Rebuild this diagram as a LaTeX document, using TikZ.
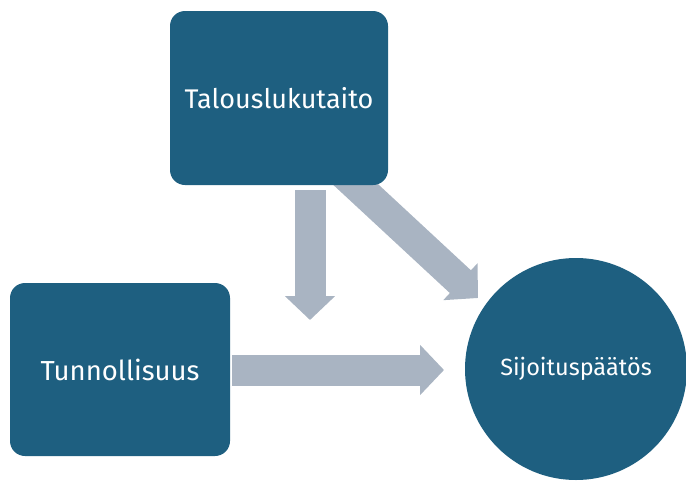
\documentclass[tikz,border=0pt]{standalone}
\usepackage{fontspec}
\setmainfont{Fira Sans}
\usetikzlibrary{arrows.meta}
\definecolor{boxblue}{HTML}{1E5F80}
\definecolor{arrowgray}{HTML}{A9B4C2}
\tikzset{
  blockbox/.style={fill=boxblue, draw=none, rounded corners=15pt, text=white, inner sep=0pt},
  roundnode/.style={circle, fill=boxblue, draw=none, text=white, font=\fontsize{23.5}{27}\selectfont, inner sep=0pt},
  fatarrow/.style={draw=arrowgray, line width=31pt, -{Triangle[width=49pt, length=24pt]}}
}
\begin{document}
\begin{tikzpicture}[x=1pt, y=-1pt]
\useasboundingbox (0,0) rectangle (686,483);
\coordinate (c1) at (310,190);
\coordinate (c2) at (310,320);
\coordinate (c3) at (232,370);
\coordinate (c4) at (444,370);
\coordinate (c5) at (340,170);
\coordinate (c6) at (478,298);
\draw[fatarrow] (c1) -- (c2);
\draw[fatarrow] (c3) -- (c4);
\draw[fatarrow] (c5) -- (c6);
\node[blockbox, minimum width=218pt, minimum height=174pt, font=\fontsize{27}{31}\selectfont] (talous) at (279,98) {Talouslukutaito};
\node[blockbox, minimum width=220pt, minimum height=173pt, font=\fontsize{27.5}{31}\selectfont] (tunnol) at (120,369.5) {Tunnollisuus};
\node[roundnode, minimum size=222pt] (sijoitus) at (576,369) {Sijoituspäätös};
\end{tikzpicture}
\end{document}
